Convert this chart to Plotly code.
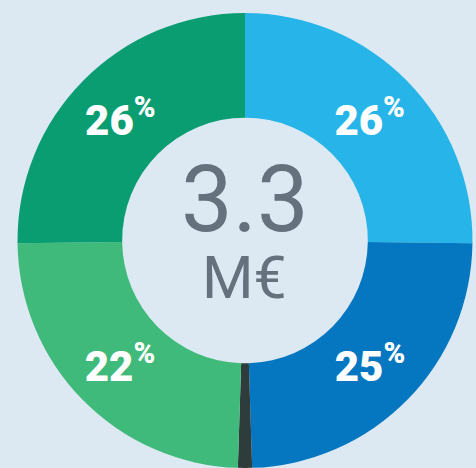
import plotly.graph_objects as go

segments = ["Segment A", "Segment B", "Segment C", "Segment D", "Segment E"]
shares = [25.2, 24.3, 1.0, 24.3, 25.2]
pct_labels = ["26<sup>%</sup>", "25<sup>%</sup>", "", "22<sup>%</sup>", "26<sup>%</sup>"]
colors = ["#27b5e9", "#0577c1", "#2e3d3c", "#3fba7a", "#0b9d72"]
center_value = "3.3"
center_unit = "M€"

bg = "#dde9f2"

fig = go.Figure(go.Pie(
    labels=segments,
    values=shares,
    text=pct_labels,
    textinfo="text",
    textposition="inside",
    insidetextorientation="horizontal",
    insidetextfont=dict(family="Roboto", size=42, color="white", weight=900),
    marker=dict(colors=colors, line=dict(width=0)),
    hole=0.54,
    sort=False,
    direction="clockwise",
    rotation=0,
    showlegend=False,
    hoverinfo="label+value",
    domain=dict(x=[0.0368, 0.9926], y=[0, 1]),
))

fig.add_annotation(x=0.5147, y=0.59, xref="paper", yref="paper",
                   text=center_value, showarrow=False, xanchor="center", yanchor="middle",
                   font=dict(family="Roboto", size=92, color="#66717e"))
fig.add_annotation(x=0.5147, y=0.418, xref="paper", yref="paper",
                   text=center_unit, showarrow=False, xanchor="center", yanchor="middle",
                   font=dict(family="Roboto", size=59, color="#66717e"))

fig.update_layout(
    width=476, height=468,
    margin=dict(l=0, r=0, t=13, b=0),
    paper_bgcolor=bg, plot_bgcolor=bg,
)

fig.write_html(
    "out.html",
    config={"displayModeBar": False},
    post_script="document.body.style.margin='0';document.body.style.background='%s';" % bg,
)
